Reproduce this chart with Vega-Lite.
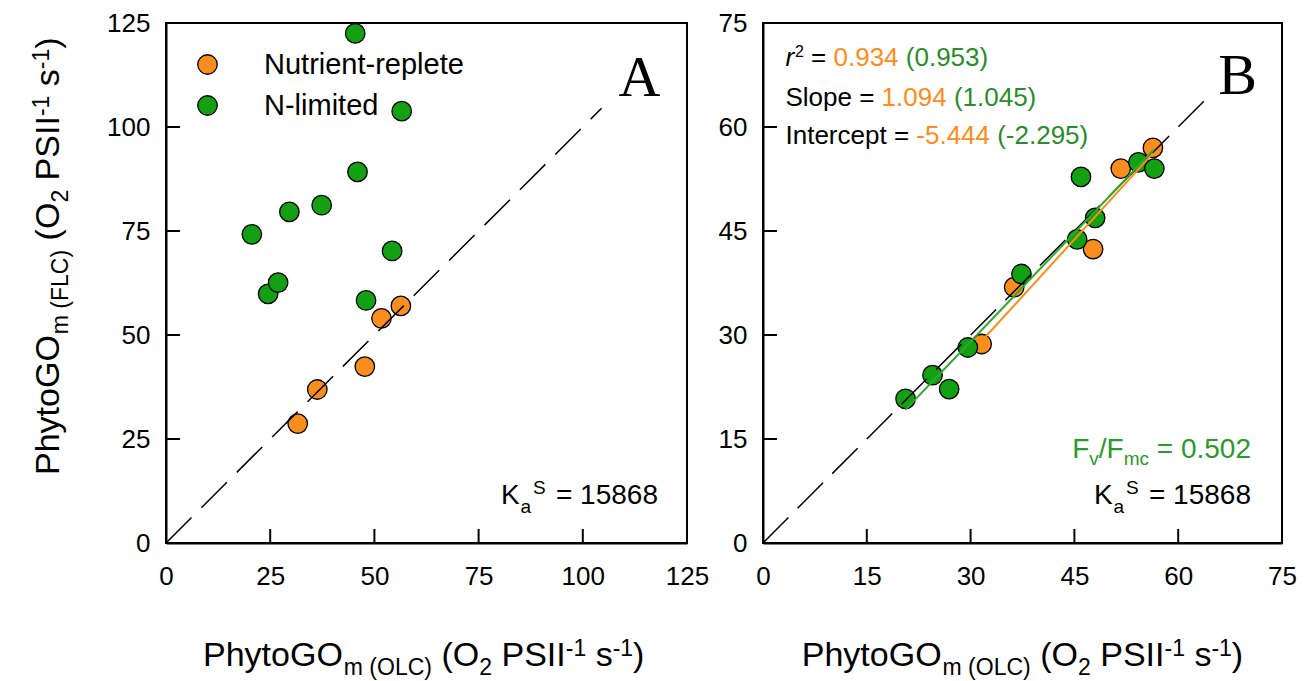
{
  "$schema": "https://vega.github.io/schema/vega-lite/v6.json",
  "background": "white",
  "padding": {"left": 30, "top": 9, "right": 5, "bottom": 5},
  "spacing": 76,
  "bounds": "flush",
  "resolve": {"scale": {"color": "independent"}, "legend": {"color": "independent"}},
  "config": {
    "font": "Liberation Sans",
    "view": {"stroke": "black", "strokeWidth": 2},
    "axis": {"grid": false, "ticks": false, "domainColor": "black", "domainWidth": 2, "labelFont": "Liberation Sans", "labelFontSize": 26, "labelColor": "black", "labelFlush": false, "labelOverlap": false, "title": null},
    "axisX": {"labelPadding": 20},
    "axisY": {"labelPadding": 16},
    "text": {"font": "Liberation Sans", "baseline": "alphabetic", "align": "left", "color": "black"}
  },
  "datasets": {
    "ptsA": [
      {"group": "Nutrient-replete", "OLC": 31.6, "FLC": 28.7},
      {"group": "Nutrient-replete", "OLC": 36.3, "FLC": 36.9},
      {"group": "Nutrient-replete", "OLC": 47.7, "FLC": 42.4},
      {"group": "Nutrient-replete", "OLC": 51.7, "FLC": 54.0},
      {"group": "Nutrient-replete", "OLC": 56.35, "FLC": 57.0},
      {"group": "N-limited", "OLC": 20.6, "FLC": 74.2},
      {"group": "N-limited", "OLC": 24.5, "FLC": 59.9},
      {"group": "N-limited", "OLC": 26.9, "FLC": 62.6},
      {"group": "N-limited", "OLC": 29.6, "FLC": 79.6},
      {"group": "N-limited", "OLC": 37.35, "FLC": 81.2},
      {"group": "N-limited", "OLC": 45.4, "FLC": 122.5},
      {"group": "N-limited", "OLC": 45.95, "FLC": 89.2},
      {"group": "N-limited", "OLC": 48.0, "FLC": 58.3},
      {"group": "N-limited", "OLC": 54.25, "FLC": 70.2},
      {"group": "N-limited", "OLC": 56.55, "FLC": 103.8}
    ],
    "ptsB": [
      {"group": "Nutrient-replete", "OLC": 31.6, "FLC": 28.7},
      {"group": "Nutrient-replete", "OLC": 36.3, "FLC": 36.9},
      {"group": "Nutrient-replete", "OLC": 47.7, "FLC": 42.4},
      {"group": "Nutrient-replete", "OLC": 51.7, "FLC": 54.0},
      {"group": "Nutrient-replete", "OLC": 56.35, "FLC": 57.0},
      {"group": "N-limited", "OLC": 20.6, "FLC": 20.8},
      {"group": "N-limited", "OLC": 24.5, "FLC": 24.2},
      {"group": "N-limited", "OLC": 26.9, "FLC": 22.2},
      {"group": "N-limited", "OLC": 29.6, "FLC": 28.2},
      {"group": "N-limited", "OLC": 37.35, "FLC": 38.8},
      {"group": "N-limited", "OLC": 45.4, "FLC": 43.8},
      {"group": "N-limited", "OLC": 45.95, "FLC": 52.8},
      {"group": "N-limited", "OLC": 48.0, "FLC": 46.9},
      {"group": "N-limited", "OLC": 54.25, "FLC": 54.9},
      {"group": "N-limited", "OLC": 56.55, "FLC": 54.0}
    ],
    "oneA": [{"x": 0, "y": 0}, {"x": 104.5, "y": 104.5}],
    "oneB": [{"x": 0, "y": 0}, {"x": 64, "y": 64}],
    "regB": [
      {"series": "N-limited", "x": 20.6, "y": 19.23},
      {"series": "N-limited", "x": 56.55, "y": 56.8},
      {"series": "Nutrient-replete", "x": 31.6, "y": 29.13},
      {"series": "Nutrient-replete", "x": 56.35, "y": 56.2}
    ],
    "ticksA": [{"v": 25}, {"v": 50}, {"v": 75}, {"v": 100}],
    "ticksB": [{"v": 15}, {"v": 30}, {"v": 45}, {"v": 60}],
    "one": [{}]
  },
  "hconcat": [
    {
      "width": 521,
      "height": 520,
      "layer": [
        {
          "data": {"name": "ptsA"},
          "mark": {"type": "point", "shape": "circle", "filled": true, "size": 380, "stroke": "black", "strokeWidth": 1.3, "opacity": 1},
          "encoding": {
            "x": {"field": "OLC", "type": "quantitative", "title": null, "scale": {"domain": [0, 125], "nice": false}, "axis": {"values": [0, 25, 50, 75, 100, 125]}},
            "y": {"field": "FLC", "type": "quantitative", "title": null, "scale": {"domain": [0, 125], "nice": false}, "axis": {"values": [0, 25, 50, 75, 100, 125]}},
            "color": {"field": "group", "type": "nominal", "scale": {"domain": ["Nutrient-replete", "N-limited"], "range": ["#F98D1E", "#13A013"]},
              "legend": {"title": null, "orient": "top-left", "offset": 27, "padding": 0, "labelFont": "Liberation Sans", "labelFontSize": 29, "labelColor": "black", "labelOffset": 42, "labelLimit": 0, "rowPadding": 11, "symbolSize": 380, "symbolType": "circle", "symbolStrokeColor": "black", "symbolStrokeWidth": 1.3, "symbolOpacity": 1}}
          }
        },
        {
          "data": {"name": "ticksA"},
          "mark": {"type": "rule", "color": "black", "strokeWidth": 2},
          "encoding": {"x": {"field": "v", "type": "quantitative", "title": null}, "y": {"datum": 0, "type": "quantitative"}, "y2": {"datum": 3.37}}
        },
        {
          "data": {"name": "ticksA"},
          "mark": {"type": "rule", "color": "black", "strokeWidth": 2},
          "encoding": {"y": {"field": "v", "type": "quantitative", "title": null}, "x": {"datum": 0, "type": "quantitative"}, "x2": {"datum": 3.36}}
        },
        {
          "data": {"name": "oneA"},
          "mark": {"type": "line", "color": "black", "strokeWidth": 1.5, "strokeDash": [36, 14]},
          "encoding": {"x": {"field": "x", "type": "quantitative", "title": null}, "y": {"field": "y", "type": "quantitative", "title": null}}
        },
        {
          "data": {"name": "one"},
          "mark": {"type": "text", "text": "A", "font": "Liberation Serif", "fontSize": 58, "align": "center"},
          "encoding": {"x": {"datum": 113.6, "type": "quantitative"}, "y": {"datum": 107.5, "type": "quantitative"}}
        },
        {
          "data": {"name": "one"},
          "encoding": {"x": {"datum": 80.37, "type": "quantitative"}, "y": {"datum": 9.375, "type": "quantitative"}},
          "layer": [
            {"mark": {"type": "text", "text": "K", "fontSize": 28}},
            {"mark": {"type": "text", "text": "a", "fontSize": 19, "dx": 19.5, "dy": 9}},
            {"mark": {"type": "text", "text": "S", "fontSize": 19, "dx": 32, "dy": -10}},
            {"mark": {"type": "text", "text": "= 15868", "fontSize": 28, "dx": 55}}
          ]
        },
        {
          "data": {"name": "one"},
          "encoding": {"x": {"datum": 8.88, "type": "quantitative"}, "y": {"datum": -29.57, "type": "quantitative"}},
          "layer": [
            {"mark": {"type": "text", "text": "PhytoGO", "fontSize": 34}},
            {"mark": {"type": "text", "text": "m (OLC)", "fontSize": 23, "dx": 140.8, "dy": 9}},
            {"mark": {"type": "text", "text": "(O", "fontSize": 34, "dx": 238.5}},
            {"mark": {"type": "text", "text": "2", "fontSize": 23, "dx": 276.3, "dy": 9}},
            {"mark": {"type": "text", "text": "PSII", "fontSize": 34, "dx": 298.5}},
            {"mark": {"type": "text", "text": "-1", "fontSize": 23, "dx": 362.8, "dy": -10}},
            {"mark": {"type": "text", "text": "s", "fontSize": 34, "dx": 392.7}},
            {"mark": {"type": "text", "text": "-1", "fontSize": 23, "dx": 409.7, "dy": -10}},
            {"mark": {"type": "text", "text": ")", "fontSize": 34, "dx": 430.1}}
          ]
        },
        {
          "data": {"name": "one"},
          "encoding": {"x": {"datum": -25.67, "type": "quantitative"}, "y": {"datum": 16.35, "type": "quantitative"}},
          "layer": [
            {"mark": {"type": "text", "angle": 270, "text": "PhytoGO", "fontSize": 34}},
            {"mark": {"type": "text", "angle": 270, "text": "m (FLC)", "fontSize": 23, "dx": 140.8, "dy": 9}},
            {"mark": {"type": "text", "angle": 270, "text": "(O", "fontSize": 34, "dx": 234.6}},
            {"mark": {"type": "text", "angle": 270, "text": "2", "fontSize": 23, "dx": 272.4, "dy": 9}},
            {"mark": {"type": "text", "angle": 270, "text": "PSII", "fontSize": 34, "dx": 294.6}},
            {"mark": {"type": "text", "angle": 270, "text": "-1", "fontSize": 23, "dx": 358.9, "dy": -10}},
            {"mark": {"type": "text", "angle": 270, "text": "s", "fontSize": 34, "dx": 388.8}},
            {"mark": {"type": "text", "angle": 270, "text": "-1", "fontSize": 23, "dx": 405.8, "dy": -10}},
            {"mark": {"type": "text", "angle": 270, "text": ")", "fontSize": 34, "dx": 426.2}}
          ]
        }
      ]
    },
    {
      "width": 519,
      "height": 520,
      "layer": [
        {
          "data": {"name": "ptsB"},
          "mark": {"type": "point", "shape": "circle", "filled": true, "size": 380, "stroke": "black", "strokeWidth": 1.3, "opacity": 1},
          "encoding": {
            "x": {"field": "OLC", "type": "quantitative", "title": null, "scale": {"domain": [0, 75], "nice": false}, "axis": {"values": [0, 15, 30, 45, 60, 75]}},
            "y": {"field": "FLC", "type": "quantitative", "title": null, "scale": {"domain": [0, 75], "nice": false}, "axis": {"values": [0, 15, 30, 45, 60, 75]}},
            "color": {"field": "group", "type": "nominal", "scale": {"domain": ["Nutrient-replete", "N-limited"], "range": ["#F98D1E", "#13A013"]}, "legend": null}
          }
        },
        {
          "data": {"name": "ticksB"},
          "mark": {"type": "rule", "color": "black", "strokeWidth": 2},
          "encoding": {"x": {"field": "v", "type": "quantitative", "title": null}, "y": {"datum": 0, "type": "quantitative"}, "y2": {"datum": 2.02}}
        },
        {
          "data": {"name": "ticksB"},
          "mark": {"type": "rule", "color": "black", "strokeWidth": 2},
          "encoding": {"y": {"field": "v", "type": "quantitative", "title": null}, "x": {"datum": 0, "type": "quantitative"}, "x2": {"datum": 2.02}}
        },
        {
          "data": {"name": "oneB"},
          "mark": {"type": "line", "color": "black", "strokeWidth": 1.5, "strokeDash": [36, 13]},
          "encoding": {"x": {"field": "x", "type": "quantitative", "title": null}, "y": {"field": "y", "type": "quantitative", "title": null}}
        },
        {
          "data": {"name": "regB"},
          "transform": [{"filter": "datum.series === 'N-limited'"}],
          "mark": {"type": "line", "color": "#2DAA2D", "strokeWidth": 2},
          "encoding": {"x": {"field": "x", "type": "quantitative", "title": null}, "y": {"field": "y", "type": "quantitative", "title": null}}
        },
        {
          "data": {"name": "regB"},
          "transform": [{"filter": "datum.series === 'Nutrient-replete'"}],
          "mark": {"type": "line", "color": "#FF8C1A", "strokeWidth": 2},
          "encoding": {"x": {"field": "x", "type": "quantitative", "title": null}, "y": {"field": "y", "type": "quantitative", "title": null}}
        },
        {
          "data": {"name": "one"},
          "mark": {"type": "text", "text": "B", "font": "Liberation Serif", "fontSize": 58, "align": "center"},
          "encoding": {"x": {"datum": 68.6, "type": "quantitative"}, "y": {"datum": 64.8, "type": "quantitative"}}
        },
        {
          "data": {"name": "one"},
          "encoding": {"x": {"datum": 3.25, "type": "quantitative"}, "y": {"datum": 68.8, "type": "quantitative"}},
          "layer": [
            {"mark": {"type": "text", "text": "r", "fontStyle": "italic", "fontSize": 26}},
            {"mark": {"type": "text", "text": "2", "fontSize": 16, "dx": 9.5, "dy": -9}},
            {"mark": {"type": "text", "text": "=", "fontSize": 26, "dx": 25.6}},
            {"mark": {"type": "text", "text": "0.934", "fontSize": 26, "dx": 48, "color": "#FF8C1A"}},
            {"mark": {"type": "text", "text": "(0.953)", "fontSize": 26, "dx": 120.3, "color": "#2A8C2A"}}
          ]
        },
        {
          "data": {"name": "one"},
          "encoding": {"x": {"datum": 3.25, "type": "quantitative"}, "y": {"datum": 63.03, "type": "quantitative"}},
          "layer": [
            {"mark": {"type": "text", "text": "Slope =", "fontSize": 26}},
            {"mark": {"type": "text", "text": "1.094", "fontSize": 26, "dx": 96.1, "color": "#FF8C1A"}},
            {"mark": {"type": "text", "text": "(1.045)", "fontSize": 26, "dx": 168.4, "color": "#2A8C2A"}}
          ]
        },
        {
          "data": {"name": "one"},
          "encoding": {"x": {"datum": 3.25, "type": "quantitative"}, "y": {"datum": 57.5, "type": "quantitative"}},
          "layer": [
            {"mark": {"type": "text", "text": "Intercept =", "fontSize": 26}},
            {"mark": {"type": "text", "text": "-5.444", "fontSize": 26, "dx": 130.8, "color": "#FF8C1A"}},
            {"mark": {"type": "text", "text": "(-2.295)", "fontSize": 26, "dx": 211.7, "color": "#2A8C2A"}}
          ]
        },
        {
          "data": {"name": "one"},
          "encoding": {"x": {"datum": 44.68, "type": "quantitative"}, "y": {"datum": 12.3, "type": "quantitative"}},
          "layer": [
            {"mark": {"type": "text", "text": "F", "fontSize": 28, "color": "#2A9A2A"}},
            {"mark": {"type": "text", "text": "v", "fontSize": 19, "dx": 17.1, "dy": 7, "color": "#2A9A2A"}},
            {"mark": {"type": "text", "text": "/F", "fontSize": 28, "dx": 26.6, "color": "#2A9A2A"}},
            {"mark": {"type": "text", "text": "mc", "fontSize": 19, "dx": 51.5, "dy": 7, "color": "#2A9A2A"}},
            {"mark": {"type": "text", "text": "= 0.502", "fontSize": 28, "dx": 84.6, "color": "#2A9A2A"}}
          ]
        },
        {
          "data": {"name": "one"},
          "encoding": {"x": {"datum": 47.83, "type": "quantitative"}, "y": {"datum": 5.58, "type": "quantitative"}},
          "layer": [
            {"mark": {"type": "text", "text": "K", "fontSize": 28}},
            {"mark": {"type": "text", "text": "a", "fontSize": 19, "dx": 19.5, "dy": 9}},
            {"mark": {"type": "text", "text": "S", "fontSize": 19, "dx": 32, "dy": -10}},
            {"mark": {"type": "text", "text": "= 15868", "fontSize": 28, "dx": 55}}
          ]
        },
        {
          "data": {"name": "one"},
          "encoding": {"x": {"datum": 5.6, "type": "quantitative"}, "y": {"datum": -17.74, "type": "quantitative"}},
          "layer": [
            {"mark": {"type": "text", "text": "PhytoGO", "fontSize": 34}},
            {"mark": {"type": "text", "text": "m (OLC)", "fontSize": 23, "dx": 140.8, "dy": 9}},
            {"mark": {"type": "text", "text": "(O", "fontSize": 34, "dx": 238.5}},
            {"mark": {"type": "text", "text": "2", "fontSize": 23, "dx": 276.3, "dy": 9}},
            {"mark": {"type": "text", "text": "PSII", "fontSize": 34, "dx": 298.5}},
            {"mark": {"type": "text", "text": "-1", "fontSize": 23, "dx": 362.8, "dy": -10}},
            {"mark": {"type": "text", "text": "s", "fontSize": 34, "dx": 392.7}},
            {"mark": {"type": "text", "text": "-1", "fontSize": 23, "dx": 409.7, "dy": -10}},
            {"mark": {"type": "text", "text": ")", "fontSize": 34, "dx": 430.1}}
          ]
        }
      ]
    }
  ]
}
